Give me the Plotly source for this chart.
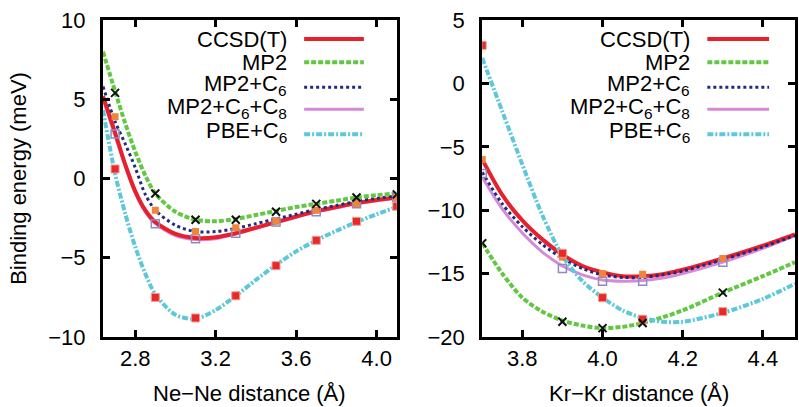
import plotly.graph_objects as go

# ---------------- data: Ne-Ne ----------------
ne_x = [2.64, 2.7, 2.75, 2.8, 2.85, 2.9, 3.0, 3.1, 3.2, 3.3, 3.4, 3.5, 3.6, 3.7, 3.8, 3.9, 4.0, 4.1]
ne_ccsdt = [5.2, 2.9, 0.9, -0.8, -2.0, -2.75, -3.5, -3.75, -3.7, -3.45, -3.1, -2.75, -2.4, -2.05, -1.8, -1.55, -1.35, -1.2]
ne_mp2 = [8.0, 5.5, 3.5, 1.7, 0.2, -0.95, -2.1, -2.6, -2.7, -2.55, -2.3, -2.05, -1.8, -1.6, -1.4, -1.2, -1.05, -0.95]
ne_mp2c6 = [5.8, 3.6, 2.2, 0.7, -1.0, -2.0, -2.95, -3.35, -3.35, -3.15, -2.85, -2.55, -2.25, -1.95, -1.7, -1.45, -1.25, -1.1]
ne_mp2c6c8 = [5.0, 2.7, 0.8, -0.9, -2.1, -2.85, -3.6, -3.85, -3.8, -3.5, -3.15, -2.8, -2.45, -2.1, -1.85, -1.6, -1.4, -1.25]
ne_pbec6 = [4.3, 0.3, -2.2, -4.3, -6.0, -7.3, -8.6, -8.85, -8.3, -7.4, -6.4, -5.45, -4.6, -3.9, -3.3, -2.75, -2.25, -1.8]

ne_pts_x = [2.7, 2.9, 3.1, 3.3, 3.5, 3.7, 3.9, 4.1]
ne_pts_mp2 = [5.4, -0.95, -2.6, -2.6, -2.1, -1.6, -1.2, -1.0]
ne_pts_orange = [3.9, -2.0, -3.35, -3.1, -2.7, -2.0, -1.6, -1.2]
ne_pts_open = [2.8, -2.85, -3.8, -3.45, -2.75, -2.1, -1.6, -1.2]
ne_pts_red = [0.6, -7.5, -8.8, -7.4, -5.5, -3.9, -2.7, -1.75]

# ---------------- data: Kr-Kr ----------------
kr_x = [3.7, 3.75, 3.8, 3.85, 3.9, 3.95, 4.0, 4.05, 4.1, 4.15, 4.2, 4.3, 4.4, 4.48]
kr_ccsdt = [-6.0, -8.8, -10.8, -12.3, -13.5, -14.4, -14.9, -15.2, -15.2, -15.05, -14.7, -13.8, -12.8, -11.9]
kr_mp2 = [-12.6, -15.0, -16.9, -18.0, -18.7, -19.1, -19.3, -19.2, -18.9, -18.45, -17.9, -16.5, -15.2, -14.1]
kr_mp2c6 = [-7.0, -9.5, -11.3, -12.7, -13.8, -14.6, -15.1, -15.3, -15.3, -15.1, -14.8, -13.9, -12.9, -12.0]
kr_mp2c6c8 = [-7.4, -9.9, -11.8, -13.3, -14.4, -15.1, -15.5, -15.6, -15.55, -15.35, -15.0, -14.1, -13.0, -12.0]
kr_pbec6 = [2.0, -2.2, -6.4, -10.4, -13.6, -15.6, -16.9, -17.9, -18.5, -18.8, -18.8, -18.1, -17.0, -15.8]

kr_pts_x = [3.7, 3.9, 4.0, 4.1, 4.3]
kr_pts_mp2 = [-12.6, -18.8, -19.3, -18.9, -16.5]
kr_pts_orange = [-6.0, -13.7, -15.0, -15.05, -13.8]
kr_pts_open = [-7.1, -14.6, -15.6, -15.6, -14.1]
kr_pts_red = [3.0, -13.4, -16.9, -18.6, -18.0]

method_names = ["CCSD(T)", "MP2", "MP2+C<sub>6</sub>", "MP2+C<sub>6</sub>+C<sub>8</sub>", "PBE+C<sub>6</sub>"]
left_ticks = [2.8, 3.2, 3.6, 4.0]
right_ticks = [3.8, 4.0, 4.2, 4.4]

styles = [
    dict(color="#e8202c", width=4, dash="solid"),
    dict(color="#62c843", width=4, dash="5px,2px"),
    dict(color="#1f2a80", width=3, dash="3px,3px"),
    dict(color="#d48ad8", width=3, dash="solid"),
    dict(color="#5cc8da", width=4, dash="6px,2px,2px,2px"),
]

FONT = "Liberation Sans, Arial, sans-serif"
fig = go.Figure()

def add_panel(xs, curves, ptsx, mp2p, orp, opp, redp, xa, ya):
    order = [3, 0, 2, 1, 4]
    for i in order:
        fig.add_trace(go.Scatter(x=xs, y=curves[i], mode="lines", line=dict(shape="spline", smoothing=0.8, **styles[i]),
                                 xaxis=xa, yaxis=ya, showlegend=False, name=method_names[i]))
    fig.add_trace(go.Scatter(x=ptsx, y=opp, mode="markers", xaxis=xa, yaxis=ya, showlegend=False,
                             marker=dict(symbol="square-open", size=8, color="#8c8cc0", line=dict(width=1.5))))
    fig.add_trace(go.Scatter(x=ptsx, y=orp, mode="markers", xaxis=xa, yaxis=ya, showlegend=False,
                             marker=dict(symbol="square", size=7, color="#f0843a")))
    fig.add_trace(go.Scatter(x=ptsx, y=redp, mode="markers", xaxis=xa, yaxis=ya, showlegend=False,
                             marker=dict(symbol="square", size=8, color="#e8282a", line=dict(color="#f0a090", width=1))))
    fig.add_trace(go.Scatter(x=ptsx, y=mp2p, mode="markers", xaxis=xa, yaxis=ya, showlegend=False,
                             marker=dict(symbol="x-thin-open", size=8, color="#111111", line=dict(width=2, color="#111111"))))

add_panel(ne_x, [ne_ccsdt, ne_mp2, ne_mp2c6, ne_mp2c6c8, ne_pbec6], ne_pts_x,
          ne_pts_mp2, ne_pts_orange, ne_pts_open, ne_pts_red, "x", "y")
add_panel(kr_x, [kr_ccsdt, kr_mp2, kr_mp2c6, kr_mp2c6c8, kr_pbec6], kr_pts_x,
          kr_pts_mp2, kr_pts_orange, kr_pts_open, kr_pts_red, "x2", "y2")

axis_common = dict(showline=True, linecolor="black", linewidth=3, mirror="ticks", ticks="inside",
                   ticklen=7, tickwidth=3, tickcolor="black", showgrid=False, zeroline=False,
                   tickfont=dict(family=FONT, size=22, color="black"))

fig.update_layout(
    width=799, height=407,
    margin=dict(l=103, r=1, t=20, b=70),
    paper_bgcolor="white", plot_bgcolor="white",
    showlegend=False,
    xaxis=dict(domain=[0, 0.4245], range=[2.64, 4.1], tickvals=left_ticks, tickformat=".1f",
               anchor="y", ticklabelstandoff=0, **axis_common),
    yaxis=dict(domain=[0, 1], range=[-10, 10], tickvals=[-10, -5, 0, 5, 10], anchor="x",
               ticklabelstandoff=10, **axis_common),
    xaxis2=dict(domain=[0.548, 1.0], range=[3.7, 4.48], tickvals=right_ticks, tickformat=".1f",
                anchor="y2", ticklabelstandoff=0, **axis_common),
    yaxis2=dict(domain=[0, 1], range=[-20, 5], tickvals=[-20, -15, -10, -5, 0, 5], anchor="x2",
                ticklabelstandoff=10, **axis_common),
)

# axis titles
fig.add_annotation(text="Binding energy (meV)", textangle=-90, xref="paper", yref="paper",
                   x=(18 - 103) / 695, y=0.5, xanchor="center", yanchor="middle", showarrow=False,
                   font=dict(family=FONT, size=22, color="black"))
fig.add_annotation(text="Ne\u2212Ne distance (\u00c5)", xref="x domain", yref="y domain", x=0.5,
                   y=-(392 - 336) / 316, xanchor="center", yanchor="middle", showarrow=False,
                   font=dict(family=FONT, size=22, color="black"))
fig.add_annotation(text="Kr\u2212Kr distance (\u00c5)", xref="x2 domain", yref="y2 domain", x=0.5,
                   y=-(392 - 336) / 316, xanchor="center", yanchor="middle", showarrow=False,
                   font=dict(family=FONT, size=22, color="black"))

# custom legends (text right-aligned, line sample on the right)
row_y = [39.5, 62.5, 84.5, 107.5, 131.5]
sample_y = [39, 62, 87, 109, 134]
for (xr, yr, x0px, w, tx, s0, s1) in [("x domain", "y domain", 103, 295, 290, 305, 365),
                                      ("x2 domain", "y2 domain", 484, 314, 695, 710, 772)]:
    for i, name in enumerate(method_names):
        fig.add_annotation(text=name, xref=xr, yref=yr, x=(tx - x0px) / w, y=1 - (row_y[i] - 20) / 316,
                           xanchor="right", yanchor="middle", showarrow=False,
                           font=dict(family=FONT, size=22, color="black"))
        fig.add_shape(type="line", xref=xr, yref=yr, x0=(s0 - x0px) / w, x1=(s1 - x0px) / w,
                      y0=1 - (sample_y[i] - 20) / 316, y1=1 - (sample_y[i] - 20) / 316,
                      line=dict(color=styles[i]["color"], width=styles[i]["width"], dash=styles[i]["dash"]))

fig.write_html("out.html", config={"displayModeBar": False},
               post_script="document.body.style.margin='0';document.body.style.overflow='hidden';")
